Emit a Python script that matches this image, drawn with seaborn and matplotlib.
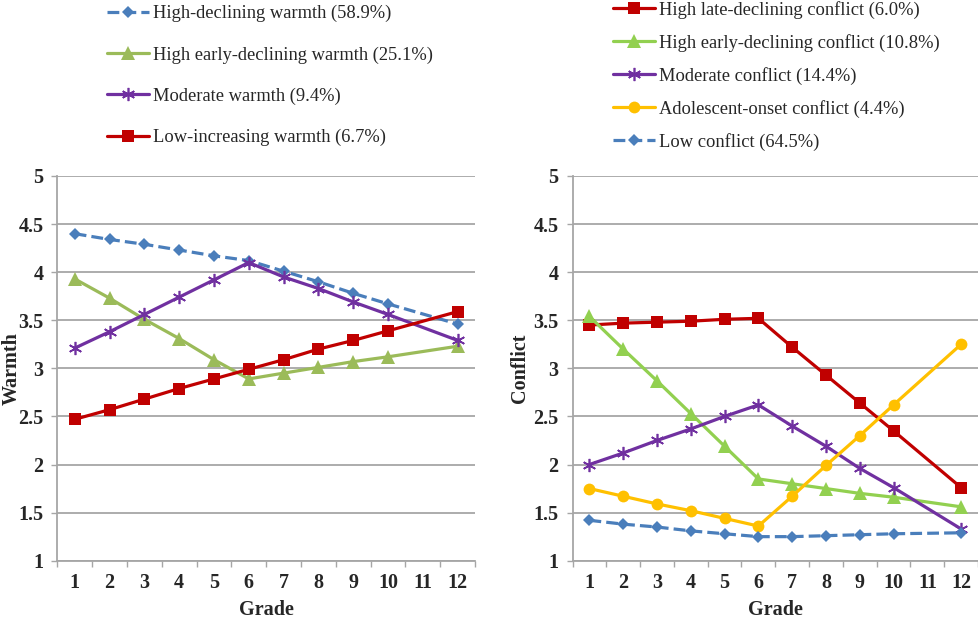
import matplotlib
matplotlib.use("Agg")
import matplotlib.pyplot as plt
import seaborn as sns
import numpy as np
from matplotlib.ticker import FixedLocator

# grades with a measurement (no point is drawn at grade 11)
grades = [1, 2, 3, 4, 5, 6, 7, 8, 9, 10, 12]
grade_ticks = list(range(1, 13))
y_ticks = [1, 1.5, 2, 2.5, 3, 3.5, 4, 4.5, 5]
y_tick_labels = ['1', '1.5', '2', '2.5', '3', '3.5', '4', '4.5', '5']

# warmth trajectories
warmth_labels = ['High-declining warmth (58.9%)',
                 'High early-declining warmth (25.1%)',
                 'Moderate warmth (9.4%)',
                 'Low-increasing warmth (6.7%)']
warm_high_declining = [4.40, 4.34, 4.29, 4.23, 4.17, 4.12, 4.01, 3.90, 3.78, 3.67, 3.46]
warm_high_early = [3.93, 3.73, 3.51, 3.31, 3.09, 2.89, 2.95, 3.01, 3.07, 3.12, 3.23]
warm_moderate = [3.21, 3.38, 3.56, 3.74, 3.92, 4.10, 3.95, 3.83, 3.69, 3.56, 3.29]
warm_low_increasing = [2.47, 2.57, 2.68, 2.79, 2.89, 2.99, 3.09, 3.20, 3.29, 3.39, 3.59]

# conflict trajectories
conflict_labels = ['High late-declining conflict (6.0%)',
                   'High early-declining conflict (10.8%)',
                   'Moderate conflict (14.4%)',
                   'Adolescent-onset conflict (4.4%)',
                   'Low conflict (64.5%)']
conf_high_late = [3.45, 3.47, 3.48, 3.49, 3.51, 3.52, 3.22, 2.93, 2.64, 2.35, 1.76]
conf_high_early = [3.54, 3.20, 2.87, 2.53, 2.19, 1.85, 1.80, 1.75, 1.70, 1.66, 1.56]
conf_moderate = [2.00, 2.12, 2.25, 2.37, 2.50, 2.62, 2.40, 2.19, 1.96, 1.76, 1.33]
conf_adolescent = [1.75, 1.67, 1.59, 1.52, 1.44, 1.36, 1.67, 1.99, 2.30, 2.62, 3.25]
conf_low = [1.42, 1.38, 1.35, 1.31, 1.28, 1.25, 1.25, 1.26, 1.27, 1.28, 1.29]

BLUE = '#4A7EBB'
RED = '#C00000'
PURPLE = '#7030A0'
ORANGE = '#FFC000'
GREEN_L = '#9BBB59'
GREEN_R = '#92D050'
GRID = '#A6A6A6'
STAR = (6, 2, 0)

sns.set_style('white')
plt.rcParams['font.family'] = ['Liberation Serif', 'DejaVu Serif']

fig = plt.figure(figsize=(9.79, 6.19), dpi=100)
ax1 = fig.add_axes([0.0585, 0.0942, 0.4268, 0.6215])
ax2 = fig.add_axes([0.5848, 0.0942, 0.4142, 0.6215])


def draw(ax, y, label, color, marker, ms, dashed=False):
    kw = dict(x=grades, y=y, ax=ax, color=color, marker=marker, markersize=ms,
              linewidth=2.3, label=label, markeredgecolor=color)
    if marker == STAR:
        kw['markeredgewidth'] = 1.2
    else:
        kw['markeredgewidth'] = 0
    if dashed:
        kw['dashes'] = (4, 2)
        kw['linestyle'] = '--'
    sns.lineplot(**kw)


draw(ax1, warm_high_declining, warmth_labels[0], BLUE, 'D', 6.5, dashed=True)
draw(ax1, warm_high_early, warmth_labels[1], GREEN_L, '^', 9.5)
draw(ax1, warm_moderate, warmth_labels[2], PURPLE, STAR, 9.5)
draw(ax1, warm_low_increasing, warmth_labels[3], RED, 's', 8.5)

draw(ax2, conf_high_late, conflict_labels[0], RED, 's', 8.5)
draw(ax2, conf_high_early, conflict_labels[1], GREEN_R, '^', 9.5)
draw(ax2, conf_moderate, conflict_labels[2], PURPLE, STAR, 9.5)
draw(ax2, conf_adolescent, conflict_labels[3], ORANGE, 'o', 8.5)
draw(ax2, conf_low, conflict_labels[4], BLUE, 'D', 6.5, dashed=True)

for ax, ylab, lx in [(ax1, 'Warmth', -0.084), (ax2, 'Conflict', -0.105)]:
    ax.set_xlim(0.5, 12.5)
    ax.set_ylim(1, 5)
    ax.set_yticks(y_ticks)
    ax.set_yticklabels(y_tick_labels, fontsize=14.5, fontweight='bold')
    ax.set_xticks(grade_ticks)
    ax.set_xticklabels([str(g) for g in grade_ticks], fontsize=14.5, fontweight='bold')
    ax.xaxis.set_minor_locator(FixedLocator(np.arange(0.5, 13, 1)))
    ax.tick_params(axis='x', which='major', length=0, pad=9)
    ax.tick_params(axis='x', which='minor', length=4, width=1, color=GRID, direction='out', bottom=True)
    ax.tick_params(axis='y', length=4, width=1, color=GRID, direction='out', left=True, pad=6)
    ax.grid(axis='y', color=GRID, linewidth=1.3)
    ax.set_axisbelow(True)
    for s in ['top', 'right']:
        ax.spines[s].set_visible(False)
    for s in ['left', 'bottom']:
        ax.spines[s].set_color(GRID)
        ax.spines[s].set_linewidth(1.3)
    ax.set_ylabel(ylab, fontsize=14.5, fontweight='bold')
    ax.yaxis.set_label_coords(lx, 0.5)
    ax.set_xlabel('Grade', fontsize=14.5, fontweight='bold')
    ax.xaxis.set_label_coords(0.5, -0.102)

ax1.legend(loc='upper left', bbox_to_anchor=(107 / 979, 0.992), bbox_transform=fig.transFigure,
           frameon=False, fontsize=13.3, labelspacing=1.3, handlelength=2.3,
           handletextpad=0.2, borderpad=0, borderaxespad=0, numpoints=1)
ax2.legend(loc='upper left', bbox_to_anchor=(613 / 979, 0.999), bbox_transform=fig.transFigure,
           frameon=False, fontsize=13.3, labelspacing=0.82, handlelength=2.3,
           handletextpad=0.2, borderpad=0, borderaxespad=0, numpoints=1)

plt.savefig('out.png', dpi=100)
